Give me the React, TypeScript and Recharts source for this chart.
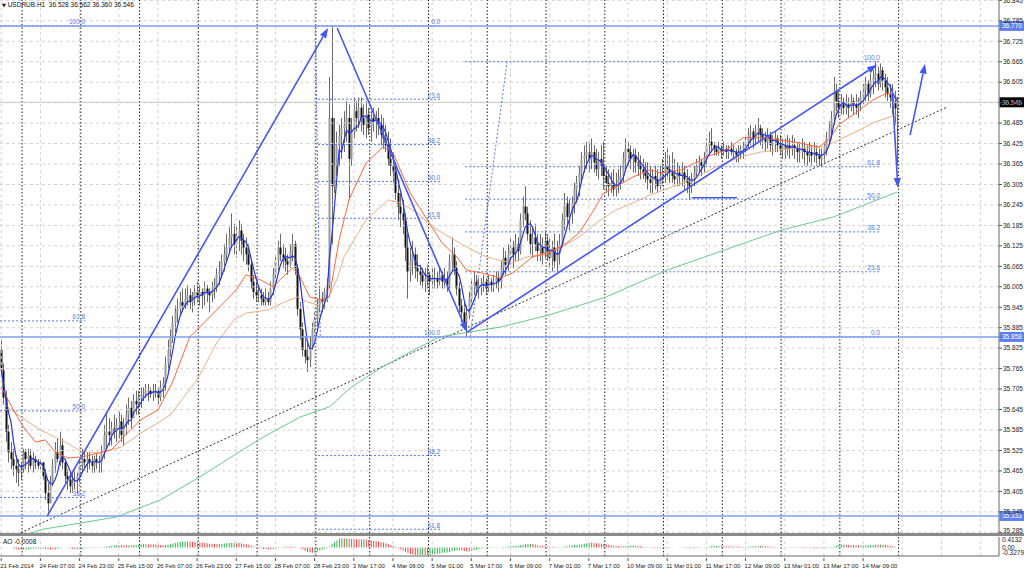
import React from "react";
import {
  ComposedChart,
  Bar,
  Line,
  XAxis,
  YAxis,
  ReferenceLine,
  ReferenceDot,
  Cell,
} from "recharts";

// hourly bars, one list per trading day: [high, low, close]; open = previous close
const feb21 = [
  [35.85, 35.74, 35.76], [35.78, 35.66, 35.68], [35.7, 35.55, 35.58], [35.6, 35.49, 35.52], [35.55, 35.47, 35.5],
  [35.53, 35.45, 35.48], [35.51, 35.43, 35.47], [35.5, 35.42, 35.46], [35.49, 35.44, 35.47],
];
const feb24 = [
  [35.53, 35.46, 35.52], [35.53, 35.47, 35.5], [35.53, 35.46, 35.51], [35.53, 35.47, 35.48], [35.52, 35.46, 35.5],
  [35.51, 35.47, 35.49], [35.5, 35.47, 35.48], [35.5, 35.47, 35.49], [35.49, 35.44, 35.45], [35.47, 35.38, 35.4],
  [35.43, 35.333, 35.37], [35.45, 35.37, 35.43], [35.5, 35.42, 35.48], [35.55, 35.46, 35.52], [35.56, 35.49, 35.5],
  [35.58, 35.48, 35.54], [35.56, 35.47, 35.49], [35.5, 35.43, 35.45], [35.47, 35.41, 35.44], [35.46, 35.4, 35.42],
  [35.46, 35.4, 35.43], [35.47, 35.41, 35.44], [35.46, 35.4, 35.45], [35.5, 35.42, 35.48],
];
const feb25 = [
  [35.53, 35.46, 35.5], [35.52, 35.47, 35.49], [35.52, 35.46, 35.5], [35.52, 35.47, 35.49], [35.51, 35.46, 35.48],
  [35.51, 35.46, 35.5], [35.52, 35.47, 35.49], [35.51, 35.46, 35.49], [35.54, 35.46, 35.52], [35.6, 35.5, 35.57],
  [35.64, 35.53, 35.58], [35.62, 35.54, 35.57], [35.61, 35.54, 35.59], [35.63, 35.56, 35.58], [35.62, 35.55, 35.6],
  [35.64, 35.56, 35.61], [35.63, 35.55, 35.57], [35.62, 35.54, 35.6], [35.66, 35.57, 35.63], [35.68, 35.6, 35.65],
  [35.67, 35.59, 35.62], [35.69, 35.62, 35.67], [35.7, 35.63, 35.66], [35.7, 35.63, 35.68],
];
const feb26 = [
  [35.71, 35.65, 35.69], [35.71, 35.67, 35.69], [35.72, 35.68, 35.7], [35.72, 35.67, 35.7], [35.71, 35.68, 35.69],
  [35.72, 35.67, 35.7], [35.72, 35.68, 35.7], [35.71, 35.66, 35.68], [35.73, 35.67, 35.71], [35.74, 35.68, 35.72],
  [35.8, 35.7, 35.78], [35.85, 35.76, 35.82], [35.88, 35.8, 35.86], [35.92, 35.84, 35.9], [35.95, 35.87, 35.93],
  [35.97, 35.9, 35.94], [35.99, 35.92, 35.96], [36.0, 35.93, 35.95], [36.0, 35.94, 35.97], [36.01, 35.95, 35.98],
  [36.0, 35.94, 35.96], [35.99, 35.93, 35.97], [36.01, 35.95, 35.99], [36.02, 35.96, 35.98],
];
const feb27 = [
  [36.01, 35.95, 35.99], [36.0, 35.94, 35.98], [36.02, 35.95, 36.0], [36.01, 35.96, 35.99], [36.0, 35.93, 35.98],
  [36.02, 35.96, 36.0], [36.03, 35.97, 36.01], [36.06, 35.99, 36.04], [36.08, 36.01, 36.05], [36.1, 36.03, 36.08],
  [36.13, 36.05, 36.1], [36.16, 36.08, 36.12], [36.18, 36.1, 36.15], [36.22, 36.12, 36.16], [36.19, 36.1, 36.13],
  [36.18, 36.09, 36.15], [36.2, 36.11, 36.17], [36.19, 36.1, 36.14], [36.16, 36.08, 36.12], [36.15, 36.07, 36.1],
  [36.13, 36.05, 36.07], [36.08, 36.0, 36.02], [36.04, 35.97, 35.99], [36.02, 35.96, 35.98],
];
const feb28 = [
  [36.01, 35.96, 35.98], [36.0, 35.95, 35.97], [35.99, 35.95, 35.96], [36.0, 35.95, 35.97], [35.99, 35.95, 35.96],
  [36.02, 35.95, 36.0], [36.06, 35.98, 36.04], [36.1, 36.02, 36.08], [36.14, 36.05, 36.12], [36.16, 36.08, 36.1],
  [36.13, 36.06, 36.09], [36.12, 36.05, 36.08], [36.1, 36.04, 36.07], [36.13, 36.06, 36.11], [36.16, 36.08, 36.13],
  [36.14, 36.04, 36.06], [36.07, 35.92, 35.94], [35.96, 35.85, 35.88], [35.9, 35.8, 35.82], [35.86, 35.78, 35.8],
  [35.84, 35.755, 35.79], [35.86, 35.77, 35.83], [35.9, 35.82, 35.88], [35.93, 35.86, 35.91],
];
const mar03 = [
  [35.97, 35.89, 35.95], [36.0, 35.93, 35.97], [35.99, 35.93, 35.96], [36.0, 35.94, 35.99], [36.03, 35.96, 36.01],
  [36.62, 36.0, 36.5], [36.77, 36.13, 36.3], [36.5, 36.28, 36.36], [36.46, 36.33, 36.42], [36.48, 36.36, 36.45],
  [36.5, 36.38, 36.47], [36.52, 36.4, 36.48], [36.55, 36.43, 36.5], [36.54, 36.26, 36.38], [36.5, 36.36, 36.46],
  [36.56, 36.44, 36.52], [36.55, 36.46, 36.5], [36.56, 36.47, 36.53], [36.56, 36.46, 36.5], [36.54, 36.45, 36.48],
  [36.55, 36.44, 36.51], [36.53, 36.45, 36.47],
];
const mar04 = [
  [36.52, 36.43, 36.5], [36.53, 36.46, 36.49], [36.52, 36.44, 36.5], [36.53, 36.45, 36.48], [36.51, 36.42, 36.45],
  [36.5, 36.41, 36.44], [36.48, 36.4, 36.42], [36.46, 36.36, 36.38], [36.44, 36.33, 36.36], [36.4, 36.31, 36.34],
  [36.37, 36.26, 36.28], [36.32, 36.2, 36.24], [36.28, 36.18, 36.22], [36.26, 36.16, 36.2], [36.22, 36.08, 36.12],
  [36.16, 35.97, 36.05], [36.12, 36.02, 36.08], [36.14, 36.04, 36.1], [36.12, 36.03, 36.06], [36.1, 36.02, 36.05],
  [36.07, 36.01, 36.04], [36.06, 36.0, 36.02], [36.06, 35.99, 36.03], [36.07, 36.0, 36.04],
];
const mar05 = [
  [36.05, 35.98, 36.02], [36.06, 36.0, 36.03], [36.06, 36.0, 36.03], [36.05, 36.0, 36.02], [36.06, 36.01, 36.04],
  [36.05, 36.0, 36.02], [36.06, 36.0, 36.03], [36.05, 35.99, 36.01], [36.1, 36.0, 36.08], [36.15, 36.05, 36.1],
  [36.12, 36.04, 36.06], [36.08, 35.98, 36.0], [36.02, 35.93, 35.95], [35.97, 35.9, 35.93], [35.96, 35.88, 35.9],
  [35.95, 35.858, 35.92], [35.99, 35.91, 35.97], [36.03, 35.95, 36.01], [36.05, 35.98, 36.02], [36.04, 35.98, 36.0],
  [36.03, 35.97, 36.01], [36.03, 35.98, 36.01], [36.04, 35.99, 36.02], [36.03, 35.98, 36.0],
];
const mar06 = [
  [36.04, 35.99, 36.02], [36.03, 35.99, 36.01], [36.04, 35.99, 36.02], [36.05, 36.0, 36.03], [36.05, 35.99, 36.02],
  [36.08, 36.0, 36.06], [36.12, 36.04, 36.09], [36.11, 36.04, 36.07], [36.13, 36.05, 36.1], [36.15, 36.07, 36.12],
  [36.14, 36.06, 36.1], [36.16, 36.08, 36.13], [36.15, 36.08, 36.11], [36.22, 36.1, 36.2], [36.27, 36.18, 36.24],
  [36.3, 36.2, 36.22], [36.24, 36.14, 36.16], [36.2, 36.1, 36.13], [36.18, 36.09, 36.15], [36.19, 36.11, 36.13],
  [36.16, 36.08, 36.11], [36.16, 36.08, 36.12], [36.15, 36.07, 36.1], [36.17, 36.09, 36.14],
];
const mar07 = [
  [36.16, 36.08, 36.11], [36.15, 36.06, 36.09], [36.14, 36.05, 36.12], [36.16, 36.06, 36.08], [36.14, 36.05, 36.1],
  [36.16, 36.07, 36.13], [36.22, 36.12, 36.2], [36.28, 36.17, 36.25], [36.27, 36.18, 36.21], [36.26, 36.17, 36.22],
  [36.27, 36.19, 36.25], [36.31, 36.22, 36.29], [36.33, 36.25, 36.31], [36.36, 36.27, 36.34], [36.4, 36.31, 36.38],
  [36.42, 36.34, 36.39], [36.43, 36.35, 36.4], [36.43, 36.34, 36.38], [36.44, 36.35, 36.4], [36.42, 36.34, 36.37],
  [36.41, 36.33, 36.35], [36.4, 36.32, 36.38], [36.42, 36.33, 36.36], [36.43, 36.29, 36.33],
];
const mar10 = [
  [36.36, 36.28, 36.31], [36.35, 36.27, 36.3], [36.34, 36.28, 36.31], [36.35, 36.27, 36.29], [36.34, 36.27, 36.3],
  [36.35, 36.28, 36.32], [36.36, 36.29, 36.33], [36.4, 36.31, 36.38], [36.44, 36.35, 36.41], [36.43, 36.36, 36.4],
  [36.42, 36.35, 36.38], [36.41, 36.34, 36.39], [36.41, 36.34, 36.37], [36.4, 36.33, 36.36], [36.39, 36.32, 36.35],
  [36.38, 36.32, 36.34], [36.37, 36.31, 36.33], [36.37, 36.29, 36.32], [36.36, 36.28, 36.31], [36.35, 36.28, 36.33],
  [36.36, 36.29, 36.32], [36.35, 36.28, 36.3], [36.36, 36.29, 36.33], [36.38, 36.3, 36.34],
];
const mar11 = [
  [36.4, 36.31, 36.36], [36.41, 36.32, 36.35], [36.39, 36.31, 36.34], [36.4, 36.31, 36.33], [36.38, 36.3, 36.32],
  [36.37, 36.3, 36.34], [36.36, 36.3, 36.33], [36.37, 36.3, 36.34], [36.36, 36.29, 36.32], [36.35, 36.28, 36.31],
  [36.33, 36.26, 36.3], [36.34, 36.28, 36.32], [36.36, 36.3, 36.34], [36.38, 36.33, 36.36], [36.39, 36.34, 36.37],
  [36.38, 36.33, 36.36], [36.4, 36.34, 36.38], [36.44, 36.36, 36.42], [36.46, 36.39, 36.43], [36.47, 36.4, 36.42],
  [36.43, 36.39, 36.41], [36.42, 36.39, 36.4], [36.43, 36.39, 36.41], [36.42, 36.38, 36.4],
];
const mar12 = [
  [36.43, 36.39, 36.41], [36.42, 36.38, 36.4], [36.42, 36.38, 36.41], [36.43, 36.39, 36.4], [36.42, 36.38, 36.4],
  [36.41, 36.37, 36.39], [36.42, 36.37, 36.4], [36.42, 36.38, 36.41], [36.43, 36.38, 36.42], [36.45, 36.39, 36.43],
  [36.47, 36.41, 36.45], [36.48, 36.42, 36.46], [36.47, 36.41, 36.44], [36.48, 36.42, 36.46], [36.5, 36.43, 36.47],
  [36.48, 36.42, 36.45], [36.47, 36.41, 36.44], [36.46, 36.4, 36.43], [36.47, 36.41, 36.45], [36.46, 36.4, 36.42],
  [36.45, 36.39, 36.43], [36.46, 36.4, 36.44], [36.45, 36.4, 36.42], [36.45, 36.39, 36.41],
];
const mar13 = [
  [36.44, 36.38, 36.42], [36.44, 36.38, 36.41], [36.45, 36.39, 36.42], [36.44, 36.38, 36.41], [36.45, 36.39, 36.42],
  [36.44, 36.38, 36.41], [36.43, 36.37, 36.4], [36.43, 36.37, 36.4], [36.44, 36.38, 36.41], [36.43, 36.36, 36.4],
  [36.42, 36.36, 36.39], [36.43, 36.37, 36.4], [36.42, 36.36, 36.39], [36.43, 36.37, 36.4], [36.42, 36.36, 36.39],
  [36.41, 36.36, 36.38], [36.41, 36.357, 36.39], [36.43, 36.37, 36.41], [36.46, 36.39, 36.44], [36.49, 36.42, 36.47],
  [36.52, 36.44, 36.5], [36.62, 36.48, 36.58], [36.6, 36.52, 36.55], [36.58, 36.5, 36.53],
];
const mar14 = [
  [36.57, 36.51, 36.54], [36.56, 36.51, 36.53], [36.57, 36.51, 36.54], [36.56, 36.5, 36.53], [36.57, 36.52, 36.55],
  [36.56, 36.51, 36.54], [36.57, 36.51, 36.53], [36.56, 36.5, 36.54], [36.58, 36.52, 36.56], [36.6, 36.54, 36.58],
  [36.62, 36.55, 36.6], [36.61, 36.55, 36.57], [36.63, 36.56, 36.61], [36.64, 36.57, 36.62], [36.665, 36.59, 36.63],
  [36.65, 36.58, 36.6], [36.66, 36.59, 36.64], [36.65, 36.58, 36.61], [36.63, 36.56, 36.59], [36.62, 36.55, 36.57],
  [36.6, 36.53, 36.56], [36.6, 36.51, 36.55], [36.58, 36.48, 36.528], [36.562, 36.36, 36.546],
];
const firstOpen = 35.82;

const symbol = "USDRUB.H1";
// one label every 16 bars
const timeLabels = [
  "21 Feb 2014", "24 Feb 07:00", "24 Feb 23:00", "25 Feb 15:00", "26 Feb 07:00", "26 Feb 23:00",
  "27 Feb 15:00", "28 Feb 07:00", "28 Feb 23:00", "3 Mar 17:00", "4 Mar 09:00", "5 Mar 01:00",
  "5 Mar 17:00", "6 Mar 09:00", "7 Mar 01:00", "7 Mar 17:00", "10 Mar 09:00", "11 Mar 01:00",
  "11 Mar 17:00", "12 Mar 09:00", "13 Mar 01:00", "13 Mar 17:00", "14 Mar 09:00",
];
const priceTicks = [
  36.845, 36.785, 36.725, 36.665, 36.605, 36.545, 36.485, 36.425, 36.365, 36.305, 36.245, 36.185, 36.125,
  36.065, 36.005, 35.945, 35.885, 35.825, 35.765, 35.705, 35.645, 35.585, 35.525, 35.465, 35.405, 35.345, 35.285,
];
const levelLines = [36.77, 35.858, 35.333];
const bidPrice = 36.546;
const aoCaption = "AO -0.0008";
const aoTicks = [0.4132, 0, -0.3279];

// fibonacci levels [label, price]
const fibLeft: [string, number][] = [["100.0", 36.77], ["61.8", 35.905], ["50.0", 35.641], ["38.2", 35.387]];
const fibMid: [string, number][] = [
  ["0.0", 36.77], ["23.6", 36.555], ["38.2", 36.422], ["50.0", 36.314], ["61.8", 36.206],
  ["100.0", 35.858], ["38.2", 35.51], ["61.8", 35.294],
];
const fibRight: [string, number][] = [
  ["100.0", 36.665], ["61.8", 36.357], ["50.0", 36.262], ["38.2", 36.166], ["23.6", 36.049], ["0.0", 35.858],
];
const fibLeftSpan = [-0.5, 34.3];
const fibMidSpan = [129.4, 179.3];
const fibRightSpan = [189.5, 358.9];

// hand-drawn lines, [bar, price] pairs
const arrows = [
  [[18.8, 35.333], [133.5, 36.764]],
  [[137.2, 36.764], [190.3, 35.872]],
  [[190.3, 35.872], [357.7, 36.656]],
  [[363.8, 36.588], [366.2, 36.295]],
  [[371.2, 36.45], [377.3, 36.659]],
];
const flatLine = [[282, 36.266], [300.5, 36.266]];
const dottedTrend = [[8, 35.284], [386.3, 36.532]];
const fibRightDiag = [[191.5, 35.858], [206.6, 36.665]];
const fibMidDiag = [[128.3, 36.77], [130.3, 35.858]];

// moving averages, [bar, price]
const maOrange = [
  [0, 35.711], [5, 35.644], [9, 35.594], [14, 35.55], [18, 35.556], [22, 35.521], [27, 35.503], [33, 35.506],
  [40, 35.518], [45, 35.527], [50, 35.565], [57, 35.615], [64, 35.644], [70, 35.726], [77, 35.858], [88, 35.937],
  [96, 35.996], [100, 36.04], [106, 36.025], [111, 36.005], [115, 36.034], [119, 36.06], [122, 36.034],
  [126, 35.975], [131, 35.966], [134, 35.975], [138, 36.142], [142, 36.26], [149, 36.368], [156, 36.415],
  [160, 36.398], [167, 36.28], [174, 36.201], [180, 36.134], [186, 36.093], [190, 36.054], [196, 36.046],
  [204, 36.031], [209, 36.046], [217, 36.093], [224, 36.104], [231, 36.134], [236, 36.163], [242, 36.23],
  [246, 36.28], [251, 36.298], [258, 36.327], [265, 36.348], [269, 36.339], [278, 36.348], [288, 36.386],
  [296, 36.406], [303, 36.442], [310, 36.442], [318, 36.436], [326, 36.427], [334, 36.415], [338, 36.436],
  [342, 36.48], [349, 36.515], [356, 36.553], [362, 36.574], [366, 36.559],
];
const maTan = [
  [0, 35.667], [8, 35.623], [16, 35.585], [27, 35.547], [33, 35.521], [40, 35.518], [49, 35.535], [57, 35.576],
  [64, 35.606], [69, 35.629], [80, 35.732], [88, 35.84], [95, 35.908], [100, 35.928], [109, 35.937],
  [115, 35.958], [121, 35.975], [125, 35.961], [129, 35.952], [133, 35.966], [137, 36.025], [140, 36.093],
  [149, 36.201], [158, 36.26], [163, 36.251], [170, 36.222], [176, 36.181], [183, 36.151], [190, 36.122],
  [198, 36.093], [208, 36.075], [215, 36.093], [223, 36.104], [229, 36.122], [236, 36.151], [243, 36.192],
  [251, 36.23], [258, 36.251], [265, 36.274], [274, 36.298], [284, 36.327], [292, 36.357], [302, 36.386],
  [310, 36.4], [318, 36.406], [326, 36.412], [336, 36.415], [342, 36.436], [349, 36.459], [356, 36.486],
  [363, 36.503], [366, 36.509],
];
const maGreen = [
  [0, 35.255], [17, 35.294], [33, 35.313], [47, 35.33], [65, 35.38], [81, 35.447], [105, 35.556],
  [122, 35.623], [134, 35.653], [143, 35.711], [155, 35.767], [167, 35.814], [179, 35.858], [204, 35.887],
  [224, 35.923], [247, 35.975], [272, 36.054], [307, 36.142], [319, 36.172], [340, 36.21], [366, 36.283],
];

// ---------- derived rows ----------
const SLOTS = 408; // bar slots incl. the empty right shift
const PLOT_W = 999;
const PLOT_H = 533;
const FONT = "'Liberation Sans Narrow', 'Liberation Sans', Arial, sans-serif";
const FIB = "#5676ee";
const TREND = "#4557f2";
const LEVEL = "#7f9cf0";

const days = [feb21, feb24, feb25, feb26, feb27, feb28, mar03, mar04, mar05, mar06, mar07, mar10, mar11, mar12, mar13, mar14];
const bars = days.flat();
const dayStarts: number[] = [];
days.reduce((acc, d) => {
  if (acc > 0) dayStarts.push(acc);
  return acc + d.length;
}, 0);
dayStarts.push(bars.length);

const mean = (arr: number[], i: number, n: number) => {
  const w = arr.slice(Math.max(0, i - n + 1), i + 1);
  return w.reduce((s, v) => s + v, 0) / w.length;
};
const closes = bars.map((b) => b[2]);
const medians = bars.map((b) => (b[0] + b[1]) / 2);

const rows: any[] = Array.from({ length: SLOTS }, (_, i) => ({ i }));
bars.forEach(([h, l, c], i) => {
  const o = i === 0 ? firstOpen : bars[i - 1][2];
  Object.assign(rows[i], { o, h, l, c, range: [l, h], sma: mean(closes, i, 5) });
});
maOrange.forEach(([i, v]) => (rows[i].maO = v));
maTan.forEach(([i, v]) => (rows[i].maT = v));
maGreen.forEach(([i, v]) => (rows[i].maG = v));

const aoRows = rows.map((r) => ({ i: r.i } as any));
medians.forEach((_, i) => {
  aoRows[i].ao = mean(medians, i, 5) - mean(medians, i, 34);
});
aoRows.forEach((r, i) => {
  if (r.ao == null) return;
  r.up = i === 0 || r.ao >= aoRows[i - 1].ao;
});

const labelBars = timeLabels.map((_, k) => k * 16);
const gridBars: number[] = [];
for (let b = 0; b < SLOTS; b += 16) gridBars.push(b);

const last = bars[bars.length - 1];
const titleText = `${symbol}  ${closes[closes.length - 2].toFixed(3)} ${last[0].toFixed(3)} ${last[1].toFixed(3)} ${last[2].toFixed(3)}`;

// ---------- render helpers ----------
const Candle = (props: any) => {
  const { x, y, width, height, payload } = props;
  if (!payload || payload.h == null || !isFinite(y)) return null;
  const cx = Math.round(x + width / 2) + 0.5;
  const k = height / Math.max(payload.h - payload.l, 1e-6);
  const yo = y + (payload.h - payload.o) * k;
  const yc = y + (payload.h - payload.c) * k;
  const top = Math.min(yo, yc);
  const bh = Math.max(Math.abs(yc - yo), 1);
  const bull = payload.c >= payload.o;
  return (
    <g>
      <line x1={cx} x2={cx} y1={y} y2={y + height} stroke="#6a6a6a" strokeWidth={1} />
      <rect x={cx - 1} y={top} width={2} height={bh} fill={bull ? "#9a9a9a" : "#111"} />
    </g>
  );
};

const arrowShape = (p: any) => {
  const { x1, y1, x2, y2 } = p;
  if (x1 == null) return null;
  const a = Math.atan2(y2 - y1, x2 - x1);
  const L = 10;
  const hw = 3.6;
  const bx = x2 - L * Math.cos(a);
  const by = y2 - L * Math.sin(a);
  const px = -Math.sin(a) * hw;
  const py = Math.cos(a) * hw;
  return (
    <g>
      <line x1={x1} y1={y1} x2={bx} y2={by} stroke={TREND} strokeWidth={1.6} />
      <polygon points={`${x2},${y2} ${bx + px},${by + py} ${bx - px},${by - py}`} fill={TREND} />
    </g>
  );
};

const fibText = (text: string) => (p: any) => {
  const vb = p.viewBox || {};
  return (
    <text x={vb.x} y={vb.y - 1.5} textAnchor="end" fontSize={6.5} fill={FIB} fontFamily={FONT}>
      {text}
    </text>
  );
};

const tagLabel = (text: string, bg: string) => (p: any) => {
  const vb = p.viewBox || {};
  const xr = vb.x + vb.width;
  return (
    <g>
      <rect x={xr + 0.5} y={vb.y - 5} width={25} height={10} fill={bg} />
      <text x={xr + 3} y={vb.y + 2.5} fontSize={6.5} fill="#fff" fontFamily={FONT}>
        {text}
      </text>
    </g>
  );
};

// labels near the bottom edge are nudged up so they stay inside the window
const PriceTick = ({ y, payload }: any) => (
  <g>
    <line x1={PLOT_W} x2={PLOT_W + 3} y1={y} y2={y} stroke="#555" />
    <text x={PLOT_W + 4} y={Math.min(y + 2.3, PLOT_H - 0.5)} fontSize={6.5} fill="#222" fontFamily={FONT}>
      {Number(payload.value).toFixed(3)}
    </text>
  </g>
);

const AoTick = ({ y, payload }: any) => (
  <text x={PLOT_W + 3} y={Math.min(Math.max(y, 4), 17) + 2.3} fontSize={6.5} fill="#222" fontFamily={FONT}>
    {payload.value === 0 ? "0.00" : String(payload.value)}
  </text>
);

const TimeTick = ({ x, y, payload }: any) => {
  const k = labelBars.indexOf(payload.value);
  if (k < 0) return null;
  return (
    <g>
      <line x1={x} x2={x} y1={y} y2={y + 3} stroke="#555" />
      <text x={x - 1} y={y + 9.5} fontSize={6} fill="#222" fontFamily={FONT}>
        {timeLabels[k]}
      </text>
    </g>
  );
};

const seg = (pts: number[][]) => pts.map(([x, y]) => ({ x, y })) as any;

export default function App() {
  return (
    <div style={{ position: "absolute", left: 0, top: 0, width: 1024, height: 568, background: "#fff", overflow: "hidden" }}>
      <ComposedChart width={1024} height={PLOT_H} data={rows} margin={{ top: 0, right: 0, bottom: 0, left: 0 }}>
        <XAxis dataKey="i" type="number" domain={[-0.5, SLOTS - 0.5]} hide allowDataOverflow />
        <YAxis
          orientation="right"
          width={25}
          domain={[35.283, 36.846]}
          allowDataOverflow
          ticks={priceTicks}
          interval={0}
          tick={<PriceTick />}
          tickLine={false}
          tickSize={0}
          axisLine={{ stroke: "#666" }}
        />
        {priceTicks.map((t) => (
          <ReferenceLine key={"gh" + t} y={t} stroke="#d2d2d2" strokeDasharray="3 3" />
        ))}
        {gridBars.map((b) => (
          <ReferenceLine key={"gv" + b} x={b} stroke="#d2d2d2" strokeDasharray="3 3" />
        ))}
        {dayStarts.map((b) => (
          <ReferenceLine key={"ds" + b} x={b - 0.5} stroke="#222" strokeDasharray="1.5 2" />
        ))}
        <ReferenceLine y={bidPrice} stroke="#c9c9c9" />

        {fibLeft.map(([t, p], k) => (
          <ReferenceLine key={"fl" + k} segment={seg([[fibLeftSpan[0], p], [fibLeftSpan[1], p]])} stroke={FIB} strokeDasharray="2 2" />
        ))}
        {fibMid.map(([t, p], k) => (
          <ReferenceLine key={"fm" + k} segment={seg([[fibMidSpan[0], p], [fibMidSpan[1], p]])} stroke={FIB} strokeDasharray="2 2" />
        ))}
        {fibRight.map(([t, p], k) => (
          <ReferenceLine key={"fr" + k} segment={seg([[fibRightSpan[0], p], [fibRightSpan[1], p]])} stroke={FIB} strokeDasharray="2 2" />
        ))}
        <ReferenceLine segment={seg(fibRightDiag)} stroke={FIB} strokeDasharray="2 2" />
        <ReferenceLine segment={seg(fibMidDiag)} stroke={FIB} strokeDasharray="2 2" />
        <ReferenceLine segment={seg(dottedTrend)} stroke="#333" strokeDasharray="2 2" />

        <Line dataKey="maG" stroke="#6cc88c" strokeWidth={1} dot={false} activeDot={false} connectNulls isAnimationActive={false} />
        <Line dataKey="maT" stroke="#eeaf86" strokeWidth={1} dot={false} activeDot={false} connectNulls isAnimationActive={false} />
        <Line dataKey="maO" stroke="#ff6838" strokeWidth={1} dot={false} activeDot={false} connectNulls isAnimationActive={false} />
        <Bar dataKey="range" shape={Candle} barSize={2} isAnimationActive={false} />
        <Line dataKey="sma" stroke="#2434e8" strokeWidth={1.2} dot={false} activeDot={false} isAnimationActive={false} />

        {levelLines.map((p) => (
          <ReferenceLine key={"lv" + p} y={p} stroke={LEVEL} strokeWidth={1.5} label={tagLabel(p.toFixed(3), "#5f80ea")} />
        ))}
        <ReferenceLine y={bidPrice} stroke="none" label={tagLabel(bidPrice.toFixed(3), "#000")} />

        {arrows.map((a, k) => (
          <ReferenceLine key={"ar" + k} segment={seg(a)} stroke={TREND} strokeWidth={1.6} shape={arrowShape} />
        ))}
        <ReferenceLine segment={seg(flatLine)} stroke={TREND} strokeWidth={1.5} />

        {fibLeft.map(([t, p], k) => (
          <ReferenceDot key={"fla" + k} x={fibLeftSpan[1]} y={p} r={0} fill="none" stroke="none" label={fibText(t)} />
        ))}
        {fibMid.map(([t, p], k) => (
          <ReferenceDot key={"fma" + k} x={fibMidSpan[1]} y={p} r={0} fill="none" stroke="none" label={fibText(t)} />
        ))}
        {fibRight.map(([t, p], k) => (
          <ReferenceDot key={"fra" + k} x={fibRightSpan[1]} y={p} r={0} fill="none" stroke="none" label={fibText(t)} />
        ))}
      </ComposedChart>

      <div style={{ position: "absolute", left: 0, top: 533, width: 1024, height: 3, background: "#8a8a8a" }} />

      <div style={{ position: "absolute", left: 0, top: 536 }}>
        <ComposedChart width={1024} height={32} data={aoRows} margin={{ top: 1, right: 0, bottom: 0, left: 0 }}>
          <XAxis
            dataKey="i"
            type="number"
            domain={[-0.5, SLOTS - 0.5]}
            ticks={labelBars}
            interval={0}
            tick={<TimeTick />}
            tickLine={false}
            tickSize={0}
            height={12}
            axisLine={{ stroke: "#666" }}
            allowDataOverflow
          />
          <YAxis
            orientation="right"
            width={25}
            domain={[-0.3279, 0.4132]}
            allowDataOverflow
            ticks={aoTicks}
            interval={0}
            tick={<AoTick />}
            tickLine={false}
            tickSize={0}
            axisLine={{ stroke: "#666" }}
          />
          {gridBars.map((b) => (
            <ReferenceLine key={"agv" + b} x={b} stroke="#d2d2d2" strokeDasharray="3 3" />
          ))}
          {dayStarts.map((b) => (
            <ReferenceLine key={"ads" + b} x={b - 0.5} stroke="#222" strokeDasharray="1.5 2" />
          ))}
          <Bar dataKey="ao" barSize={1} isAnimationActive={false}>
            {aoRows.map((r, k) => (
              <Cell key={k} fill={r.up ? "#2fb64e" : "#f04848"} />
            ))}
          </Bar>
        </ComposedChart>
      </div>

      <div style={{ position: "absolute", left: 2, top: 1, fontFamily: FONT, fontSize: 6.5, color: "#111", whiteSpace: "pre" }}>
        <span style={{ fontFamily: "'DejaVu Sans'", fontSize: 5 }}>▼</span> {titleText}
      </div>
      <div style={{ position: "absolute", left: 3, top: 538, fontFamily: FONT, fontSize: 6.5, color: "#111" }}>{aoCaption}</div>
    </div>
  );
}
